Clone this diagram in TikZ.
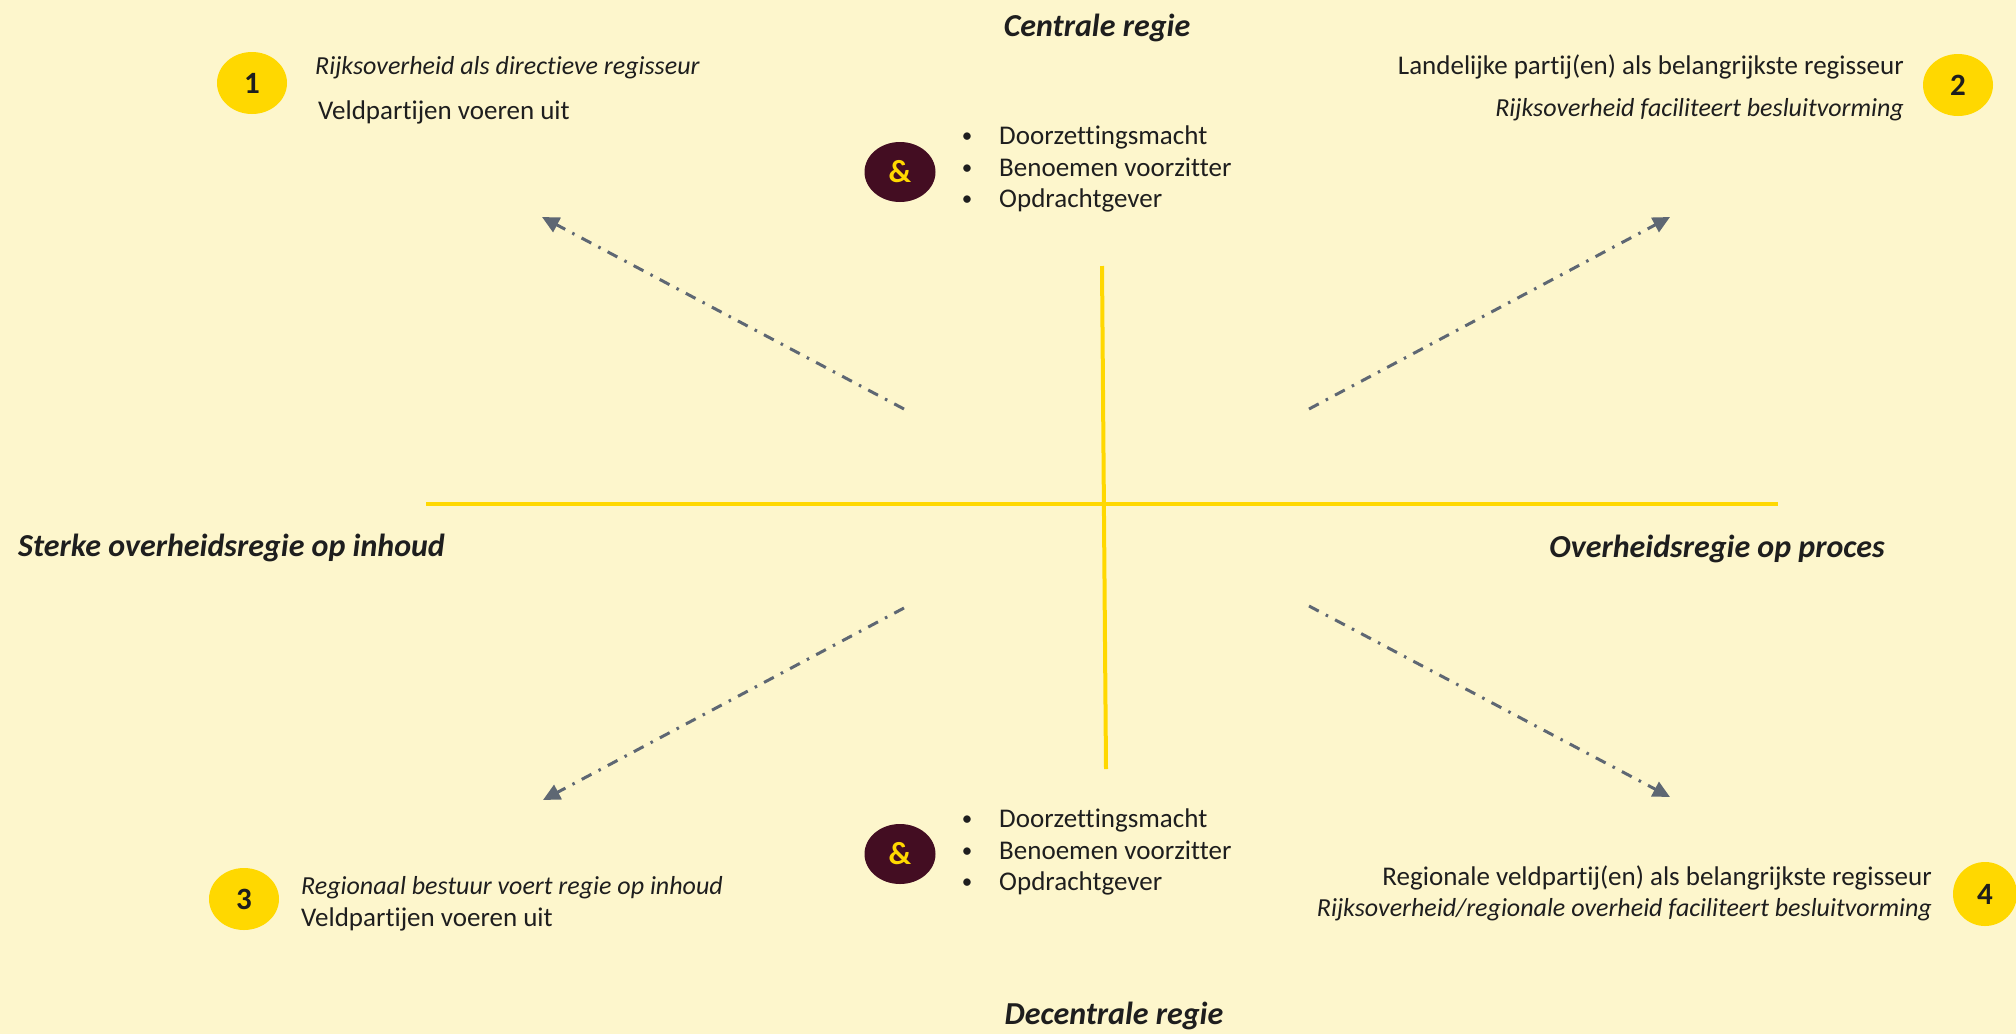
\documentclass[tikz,border=0pt]{standalone}
\usepackage{fontspec}
\setmainfont{Carlito}[Ligatures=NoCommon]
\usetikzlibrary{arrows.meta,shapes.geometric}
\definecolor{bg}{RGB}{253,246,204}
\definecolor{gold}{RGB}{255,216,0}
\definecolor{wine}{RGB}{67,13,34}
\definecolor{arrowgray}{RGB}{94,103,115}
\definecolor{ink}{RGB}{30,30,30}
\begin{document}
\begin{tikzpicture}[x=1pt,y=-1pt,
  txt/.style={inner sep=0pt, text=ink, font=\fontsize{27}{32}\selectfont},
  itxt/.style={inner sep=0pt, text=ink, font=\fontsize{26}{32}\selectfont\itshape},
  axislabel/.style={inner sep=0pt, text=ink, font=\fontsize{32}{38}\selectfont\bfseries\itshape},
  numdot/.style={ellipse, fill=gold, inner sep=0pt, minimum width=70pt, minimum height=62pt, text=ink, font=\fontsize{31}{33}\selectfont\bfseries},
  andnode/.style={ellipse, fill=wine, inner sep=0pt, minimum width=71pt, minimum height=60pt, text=gold, font=\fontsize{32}{34}\selectfont\bfseries},
  axisline/.style={draw=gold, line width=4pt},
  dirarrow/.style={draw=arrowgray, line width=3pt, dash pattern=on 11pt off 8pt on 2.5pt off 8pt, -{Triangle[length=17pt,width=16pt]}},
  bul/.style={inner sep=0pt, text=ink, font=\fontsize{21}{32}\selectfont}
]
\fill[bg] (0,0) rectangle (2016,1034);
\useasboundingbox (0,0) rectangle (2016,1034);

% axes
\coordinate (hL) at (426,504); \coordinate (hR) at (1778,504);
\coordinate (vT) at (1102,266); \coordinate (vB) at (1106,769);
\draw[axisline] (hL) -- (hR);
\draw[axisline] (vT) -- (vB);

% direction arrows
\coordinate (nwS) at (904,409); \coordinate (nwE) at (542,217);
\coordinate (neS) at (1309,409); \coordinate (neE) at (1670,217);
\coordinate (swS) at (904,608); \coordinate (swE) at (543,800);
\coordinate (seS) at (1309,606); \coordinate (seE) at (1670,797);
\draw[dirarrow] (nwS) -- (nwE);
\draw[dirarrow] (neS) -- (neE);
\draw[dirarrow] (swS) -- (swE);
\draw[dirarrow] (seS) -- (seE);

% axis labels
\node[axislabel, anchor=base] (centr) at (1097,36) {Centrale regie};
\node[axislabel, anchor=base] (decentr) at (1114,1024) {Decentrale regie};
\node[axislabel, anchor=base west] (sterke) at (18,556) {Sterke overheidsregie op inhoud};
\node[axislabel, anchor=base east] (proces) at (1885,557) {Overheidsregie op proces};

% quadrant 1
\node[numdot] (n1) at (252,83) {1};
\node[itxt, anchor=base west] (q1a) at (315,74) {Rijksoverheid als directieve regisseur};
\node[txt, anchor=base west] (q1b) at (318,119) {Veldpartijen voeren uit};

% quadrant 2
\node[numdot] (n2) at (1958,85) {2};
\node[txt, anchor=base east] (q2a) at (1904,74) {Landelijke partij(en) als belangrijkste regisseur};
\node[itxt, anchor=base east] (q2b) at (1904,116) {Rijksoverheid faciliteert besluitvorming};

% quadrant 3
\node[numdot] (n3) at (244,899) {3};
\node[itxt, anchor=base west] (q3a) at (301,894) {Regionaal bestuur voert regie op inhoud};
\node[txt, anchor=base west] (q3b) at (301,926) {Veldpartijen voeren uit};

% quadrant 4
\node[numdot, minimum width=64pt, minimum height=64pt] (n4) at (1985,894) {4};
\node[txt, anchor=base east] (q4a) at (1932,885) {Regionale veldpartij(en) als belangrijkste regisseur};
\node[itxt, anchor=base east] (q4b) at (1932,916) {Rijksoverheid/regionale overheid faciliteert besluitvorming};

% top ampersand block
\node[andnode] (amp1) at (900,172) {\&};
\node[bul, anchor=base] (b1a) at (967,142) {•};
\node[bul, anchor=base] (b1b) at (967,174) {•};
\node[bul, anchor=base] (b1c) at (967,205) {•};
\node[txt, anchor=base west] (t1a) at (999,144) {Doorzettingsmacht};
\node[txt, anchor=base west] (t1b) at (999,176) {Benoemen voorzitter};
\node[txt, anchor=base west] (t1c) at (999,207) {Opdrachtgever};

% bottom ampersand block
\node[andnode] (amp2) at (900,854) {\&};
\node[bul, anchor=base] (b2a) at (967,825) {•};
\node[bul, anchor=base] (b2b) at (967,857) {•};
\node[bul, anchor=base] (b2c) at (967,888) {•};
\node[txt, anchor=base west] (t2a) at (999,827) {Doorzettingsmacht};
\node[txt, anchor=base west] (t2b) at (999,859) {Benoemen voorzitter};
\node[txt, anchor=base west] (t2c) at (999,890) {Opdrachtgever};
\end{tikzpicture}
\end{document}
